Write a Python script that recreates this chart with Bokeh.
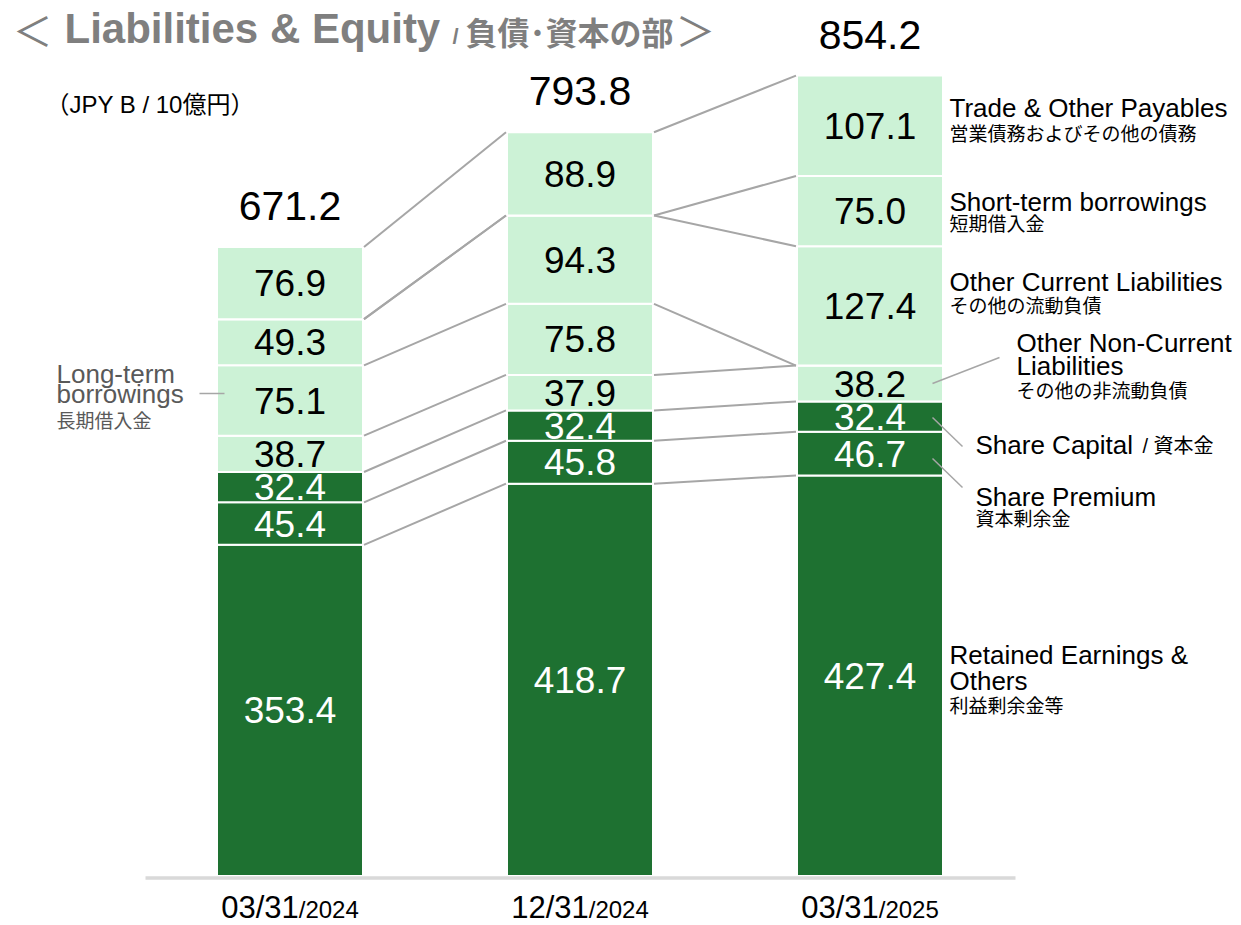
import numpy as np
from bokeh.plotting import figure
from bokeh.models import Range1d
from bokeh.core.properties import value
from bokeh.embed import file_html
from bokeh.resources import INLINE

# ---------------- data ----------------
dates = ["03/31", "12/31", "03/31"]
years = ["/2024", "/2024", "/2025"]
retained = [353.4, 418.7, 427.4]
share_premium = [45.4, 45.8, 46.7]
share_capital = [32.4, 32.4, 32.4]
other_noncurrent = [38.7, 37.9, 38.2]
lt_borrowings = [75.1, 75.8, 0.0]
other_current = [49.3, 94.3, 127.4]
st_borrowings = [0.0, 0.0, 75.0]
trade_payables = [76.9, 88.9, 107.1]
totals = [671.2, 793.8, 854.2]

series = [retained, share_premium, share_capital, other_noncurrent,
          lt_borrowings, other_current, st_borrowings, trade_payables]
is_equity = [True, True, True, False, False, False, False, False]

# ---------------- styling ----------------
DARK = "#1E7131"
LIGHT = "#CCF2D6"
GREY_LINE = "#A6A6A6"
LAT = "Liberation Sans, Noto Sans CJK JP"
JP = "Noto Sans CJK JP"

W, H = 1241, 925
SX = 290.0      # px per category step
SY = 0.937      # px per JPY B
X0 = -289.5 / SX
Y1 = 875.5 / SY
BW = 146.0 / SX

def px(x):   # picture pixel -> data x
    return X0 + x / SX

def py(y):   # picture pixel -> data y
    return Y1 - y / SY

p = figure(width=W, height=H, output_backend="svg", toolbar_location=None,
           x_range=Range1d(X0, X0 + W / SX), y_range=Range1d(Y1 - H / SY, Y1),
           x_axis_location=None, y_axis_location=None, min_border=0)
p.grid.visible = False
p.outline_line_color = None

idx = np.arange(len(totals))

# ---------------- stacked bars ----------------
bottom = np.zeros(len(totals))
tops = []
for vals, eq in zip(series, is_equity):
    v = np.array(vals)
    top = bottom + v
    p.vbar(x=idx, bottom=bottom, top=top, width=BW,
           fill_color=DARK if eq else LIGHT, line_color="white", line_width=2)
    mids = (bottom + top) / 2
    keep = v > 0
    p.text(x=idx[keep], y=mids[keep], text=[f"{a:.1f}" for a in v[keep]],
           text_align="center", text_baseline="middle",
           text_font=value(LAT), text_font_size="37px",
           text_color="white" if eq else "black")
    tops.append(top)
    bottom = top

# totals
p.text(x=idx, y=totals, text=[f"{t:.1f}" for t in totals], y_offset=-41,
       text_align="center", text_baseline="middle",
       text_font=value(LAT), text_font_size="41px", text_color="black")

# connector lines between bars
gap = 1.0 / SX
for top in tops:
    p.segment(x0=idx[:-1] + BW / 2 + gap, y0=top[:-1],
              x1=idx[1:] - BW / 2 - gap, y1=top[1:],
              line_color=GREY_LINE, line_width=2)

# baseline
p.segment(x0=[px(145)], y0=[py(877.5)], x1=[px(1015)], y1=[py(877.5)],
          line_color="#D9D9D9", line_width=3.5)

# x labels (mixed sizes, common baseline)
s1, s2 = 31, 24
w1, w2 = 2.502 * s1, 2.502 * s2
split = (w1 - w2) / 2
XB = 917.5
p.text(x=idx, y=[py(XB - 0.35 * s1)] * 3, text=dates, x_offset=split,
       text_align="right", text_baseline="middle",
       text_font=value(LAT), text_font_size=f"{s1}px", text_color="black")
p.text(x=idx, y=[py(XB - 0.35 * s2)] * 3, text=years, x_offset=split,
       text_align="left", text_baseline="middle",
       text_font=value(LAT), text_font_size=f"{s2}px", text_color="black")

# ---------------- annotations ----------------
def label(x, y, t, size, color="black", font=LAT, style="normal", align="left"):
    # y = visual centre of the text line
    p.text(x=[px(x)], y=[py(y)], text=[t], text_align=align, text_baseline="middle",
           text_font=value(font), text_font_size=f"{size}px",
           text_color=color, text_font_style=style)

# title
TG = "#7F7F7F"
label(32, 28, "＜", 40, TG, JP, "normal", "center")
label(64, 28, "Liabilities & Equity", 42, TG, LAT, "bold")
label(452, 36, "/", 22, TG, LAT, "bold")
label(465, 30, "負債･資本の部", 32, TG, JP, "bold")
label(695, 28, "＞", 40, TG, JP, "normal", "center")

# unit
label(45, 104, "（JPY B / 10億円）", 24)

# right side labels
label(949, 107.5, "Trade & Other Payables", 26)
label(949, 132, "営業債務およびその他の債務", 19, font=JP)
label(949, 201, "Short-term borrowings", 26)
label(949, 221.5, "短期借入金", 19, font=JP)
label(949, 281, "Other Current Liabilities", 26)
label(949, 303.5, "その他の流動負債", 19, font=JP)
label(1016, 342.5, "Other Non-Current", 26)
label(1016, 365, "Liabilities", 26)
label(1016, 388.5, "その他の非流動負債", 19, font=JP)
label(975, 444, "Share Capital", 26)
label(1142, 445, "/ 資本金", 20)
label(975, 496, "Share Premium", 26)
label(975, 516.5, "資本剰余金", 19, font=JP)
label(949, 654, "Retained Earnings &", 26)
label(949, 680, "Others", 26)
label(949, 703.5, "利益剰余金等", 19, font=JP)

# left label
LG = "#595959"
label(56, 373.5, "Long-term", 26, LG)
label(56, 393, "borrowings", 26, LG)
label(56, 418.5, "長期借入金", 19, LG, JP)

# leader lines
p.segment(x0=[px(199)], y0=[py(393)], x1=[px(224)], y1=[py(393)],
          line_color=GREY_LINE, line_width=1.5)
p.segment(x0=[px(932)] * 3, y0=[py(383), py(417), py(458)],
          x1=[px(999), px(962), px(962)], y1=[py(357), py(446), py(487)],
          line_color=GREY_LINE, line_width=1.5)

open("out.html", "w").write(file_html(p, INLINE))
